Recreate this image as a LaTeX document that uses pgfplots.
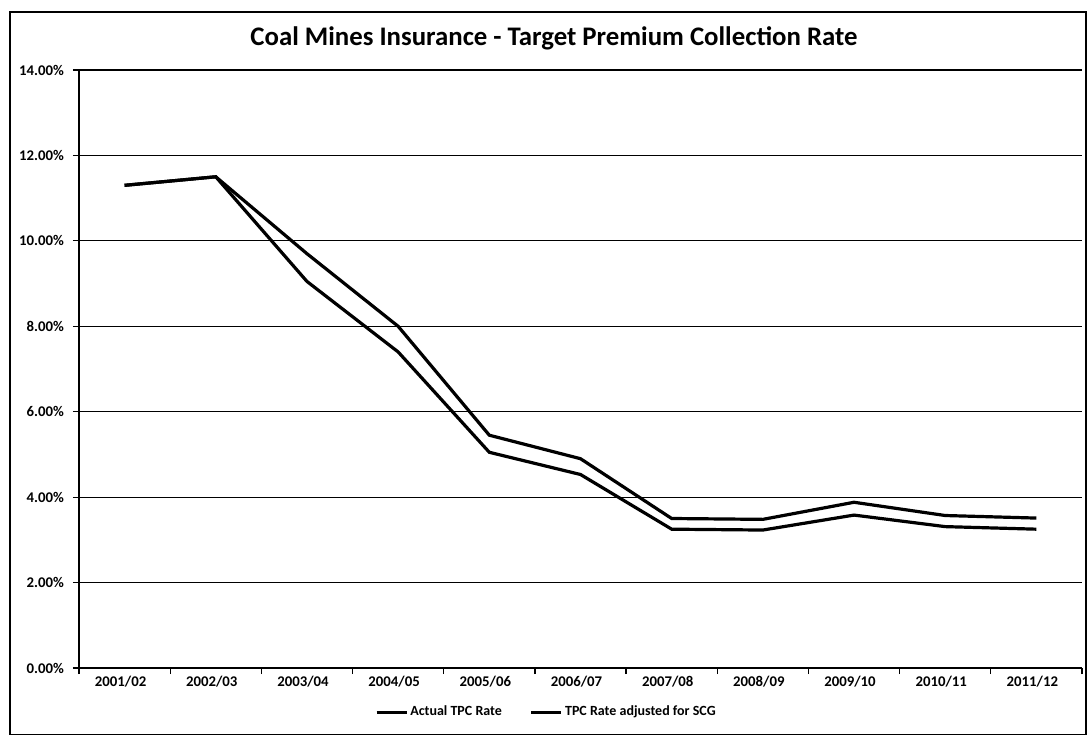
\documentclass[border=0pt]{standalone}
\usepackage{fontspec}
\setmainfont{Carlito}
\usepackage{pgfplots}
\pgfplotsset{compat=1.18}
\begin{document}
\begin{tikzpicture}[x=1pt,y=1pt]
\useasboundingbox (0,0) rectangle (544,368);
\draw[line width=0.6pt] (5,0.8) rectangle (543,362);
\node[font=\bfseries\fontsize{13.4}{15}\selectfont] at (277,349) {Coal Mines Insurance - Target Premium Collection Rate};
\begin{axis}[
  at={(39.5pt,34pt)}, anchor=south west,
  scale only axis, width=501.5pt, height=299pt,
  xmin=-0.5, xmax=10.5, ymin=0, ymax=14,
  axis lines=left,
  axis line style={-, black, line width=0.8pt},
  xtick={-0.5,0.5,...,10.5},
  x tick label as interval,
  xticklabels={2001/02,2002/03,2003/04,2004/05,2005/06,2006/07,2007/08,2008/09,2009/10,2010/11,2011/12},
  ytick={0,2,...,14},
  yticklabel={\pgfmathprintnumber[fixed,fixed zerofill,precision=2]{\tick}\%},
  /pgf/number format/assume math mode=true,
  tick label style={font=\bfseries\fontsize{7.4}{8}\selectfont, black},
  xticklabel style={yshift=2.5pt, xshift=-2pt},
  yticklabel style={xshift=-1pt},
  tick align=outside,
  major tick length=3pt,
  tick style={black, line width=0.6pt},
  ymajorgrids,
  major grid style={black, line width=0.6pt},
  legend style={at={(0.466,-0.074)}, anchor=center, draw=none, fill=none,
    legend columns=2, font=\bfseries\fontsize{7}{8}\selectfont,
    nodes={inner xsep=1pt},
    /tikz/every even column/.append style={column sep=13pt}},
  legend image code/.code={\draw[#1] (0pt,0pt) -- (15pt,0pt);},
  clip=false,
]
\addplot[black, line width=1.6pt] coordinates {
(0,11.3) (1,11.5) (2,9.7) (3,8.0) (4,5.45) (5,4.9) (6,3.5) (7,3.48) (8,3.88) (9,3.57) (10,3.51)};
\addlegendentry{Actual TPC Rate}
\addplot[black, line width=1.6pt] coordinates {
(0,11.3) (1,11.5) (2,9.05) (3,7.4) (4,5.05) (5,4.53) (6,3.25) (7,3.23) (8,3.58) (9,3.31) (10,3.25)};
\addlegendentry{TPC Rate adjusted for SCG}
\end{axis}
\end{tikzpicture}
\end{document}
